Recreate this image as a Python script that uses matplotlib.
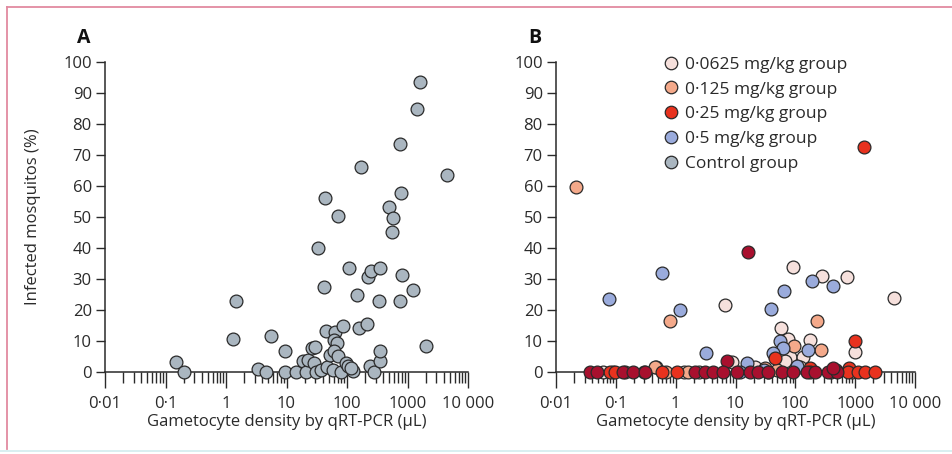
import numpy as np
import matplotlib.pyplot as plt
from matplotlib.ticker import LogLocator, FixedLocator, NullFormatter
from matplotlib.lines import Line2D

plt.rcParams['font.family'] = ['Open Sans', 'DejaVu Sans']

# --- Panel A: control group ---
control_x = [0.151, 0.20, 1.31, 1.48, 3.4, 4.6, 5.6, 9.6, 9.6, 14.5, 18.8, 21, 22.7,
             26.7, 30, 29, 33, 31, 37.7, 41, 42.7, 45.5, 46.7, 62.5, 61, 71, 68, 51.6,
             61, 71, 58.6, 80.5, 86, 97.5, 104, 108, 126, 118, 146, 158, 168, 217, 222,
             246, 237, 276, 347, 347, 334, 356, 495, 576, 561, 743, 791, 762, 823, 1233,
             1455, 1631, 2047, 4550]
control_y = [3.1, 0, 10.7, 23, 1, 0, 11.7, 6.9, 0, 0, 3.4, 0, 4,
             7.7, 8, 3, 40, 0, 0.7, 27.3, 56, 13.3, 1.5, 13, 10.4, 50.3, 9.3, 5.6,
             6.7, 5.3, 0.5, 0, 14.9, 2.9, 1.8, 33.5, 0.2, 1.3, 24.7, 14.2, 66.2, 15.5, 30.8,
             32.7, 2.0, 0, 3.4, 6.7, 23, 33.5, 53.1, 49.6, 45.1, 73.7, 57.9, 23, 31.2, 26.5,
             84.7, 93.6, 8.5, 63.5]

# --- Panel B: treatment groups ---
g0625_x = [6.8, 93, 275, 720, 4500, 57, 76, 176, 81, 133, 67, 1000, 8.7, 0.47, 21,
           0.061, 0.3, 1.4, 2.5, 120, 35]
g0625_y = [21.5, 34, 31, 30.5, 24, 14.2, 10.6, 10.2, 5, 4.7, 3.4, 6.3, 3.2, 1.5, 1.6,
           0, 0, 0, 0, 1.5, 0]

g125_x = [0.0216, 0.80, 233, 95, 265, 31, 0.46, 0.09, 0.14, 0.7, 1.6, 50, 400, 900]
g125_y = [59.8, 16.5, 16.5, 8.5, 7, 1.3, 1.5, 0, 0, 0, 0, 0.5, 0, 0]

g5_x = [0.6, 0.078, 1.18, 3.2, 38.7, 65, 187, 432, 55.5, 63, 165, 43, 15.6, 105, 30, 12]
g5_y = [31.9, 23.5, 20, 6.1, 20.3, 26.2, 29.2, 27.6, 9.9, 7.7, 7, 6.1, 2.9, 2, 0.5, 0]

g25_x = [1420, 1000, 46, 176, 800, 0.08, 0.098, 0.59, 1.05, 177, 760, 1120, 1470, 2150, 470]
g25_y = [72.6, 9.9, 4.5, 1.3, 1.3, 0, 0, 0, 0, 0, 0, 0, 0, 0, 0.8]

# dark red points (no legend entry in the original)
dark_x = [16.4, 7.1, 0.037, 0.048, 0.13, 0.19, 0.31, 2.1, 3.1, 4.2, 6.2, 10.6, 17.5,
          24, 35, 60, 92, 158, 215, 354, 500, 430]
dark_y = [38.7, 3.6, 0, 0, 0, 0, 0, 0, 0, 0, 0, 0, 0,
          0, 0, 0, 0, 0, 0, 0, 0, 1.3]

groups = ['0·0625 mg/kg group', '0·125 mg/kg group', '0·25 mg/kg group',
          '0·5 mg/kg group', 'Control group']
colors = {'0·0625 mg/kg group': '#f6e0dc', '0·125 mg/kg group': '#f4a98a',
          '0·25 mg/kg group': '#e8321e', '0·5 mg/kg group': '#9aabdc',
          'Control group': '#aab6c0', 'dark': '#a8102e'}

xticks = [0.01, 0.1, 1, 10, 100, 1000, 10000]
xticklabels = ['0·01', '0·1', '1', '10', '100', '1000', '10 000']
yticks = list(range(0, 101, 10))

ink = '#2a2a2a'
fs = 12

fig = plt.figure(figsize=(9.52, 4.54), dpi=100)
axA = fig.add_axes([105 / 952, 1 - 372 / 454, 363 / 952, 310 / 454])
axB = fig.add_axes([556 / 952, 1 - 372 / 454, 359 / 952, 310 / 454])


def style(ax):
    ax.set_xscale('log')
    ax.set_xlim(0.01, 10000)
    ax.set_ylim(0, 100)
    for s in ['top', 'right']:
        ax.spines[s].set_visible(False)
    for s in ['left', 'bottom']:
        ax.spines[s].set_linewidth(1.1)
        ax.spines[s].set_color(ink)
    ax.xaxis.set_major_locator(FixedLocator(xticks))
    ax.set_xticklabels(xticklabels)
    ax.xaxis.set_minor_locator(LogLocator(base=10, subs=np.arange(2, 10), numticks=20))
    ax.xaxis.set_minor_formatter(NullFormatter())
    ax.set_yticks(yticks)
    ax.tick_params(axis='x', which='major', length=11.5, width=1.0, color=ink,
                   labelsize=fs, labelcolor=ink, pad=5.5)
    ax.tick_params(axis='x', which='minor', length=8, width=1.0, color=ink)
    ax.tick_params(axis='y', which='major', length=6.5, width=1.0, color=ink,
                   labelsize=fs, labelcolor=ink, pad=3)
    ax.set_xlabel('Gametocyte density by qRT-PCR (μL)', fontsize=fs, color=ink)
    ax.xaxis.set_label_coords(0.5, -(422 - 372) / 310, transform=ax.transAxes)
    ax.xaxis.label.set_va('center')


def dots(ax, x, y, c):
    ax.scatter(x, y, s=85, c=c, edgecolors=ink, linewidths=0.9, zorder=3, clip_on=False)


style(axA)
style(axB)

dots(axA, control_x, control_y, colors['Control group'])
axA.set_ylabel('Infected mosquitos (%)', fontsize=fs, color=ink)
axA.yaxis.set_label_coords(-(105 - 33) / 363, 0.5)
axA.yaxis.label.set_va('center')

dots(axB, g0625_x, g0625_y, colors['0·0625 mg/kg group'])
dots(axB, g125_x, g125_y, colors['0·125 mg/kg group'])
dots(axB, g5_x, g5_y, colors['0·5 mg/kg group'])
dots(axB, g25_x, g25_y, colors['0·25 mg/kg group'])
dots(axB, dark_x, dark_y, colors['dark'])

handles = [Line2D([], [], marker='o', linestyle='none', markersize=9,
                  markerfacecolor=colors[g], markeredgecolor=ink, markeredgewidth=0.9)
           for g in groups]
axB.legend(handles, groups, loc='upper left', bbox_to_anchor=(0.2865, 1.04), frameon=False,
           fontsize=12.5, handletextpad=0.5, handlelength=0.6, labelspacing=0.5,
           labelcolor=ink, borderaxespad=0)

fig.text(84 / 952, 1 - 38 / 454, 'A', fontsize=14, fontweight='bold', color='#111',
         ha='center', va='center')
fig.text(535 / 952, 1 - 38 / 454, 'B', fontsize=14, fontweight='bold', color='#111',
         ha='center', va='center')

# page frame
fig.add_artist(Line2D([7 / 952, 1], [1 - 7 / 454, 1 - 7 / 454], color='#e28aa0', lw=1.3))
fig.add_artist(Line2D([7 / 952, 7 / 952], [1 - 7 / 454, 1 - 449 / 454], color='#e28aa0', lw=1.3))
fig.add_artist(Line2D([0, 1], [1 - 451 / 454, 1 - 451 / 454], color='#d6eef0', lw=1.3))

fig.savefig('out.png', dpi=100)
